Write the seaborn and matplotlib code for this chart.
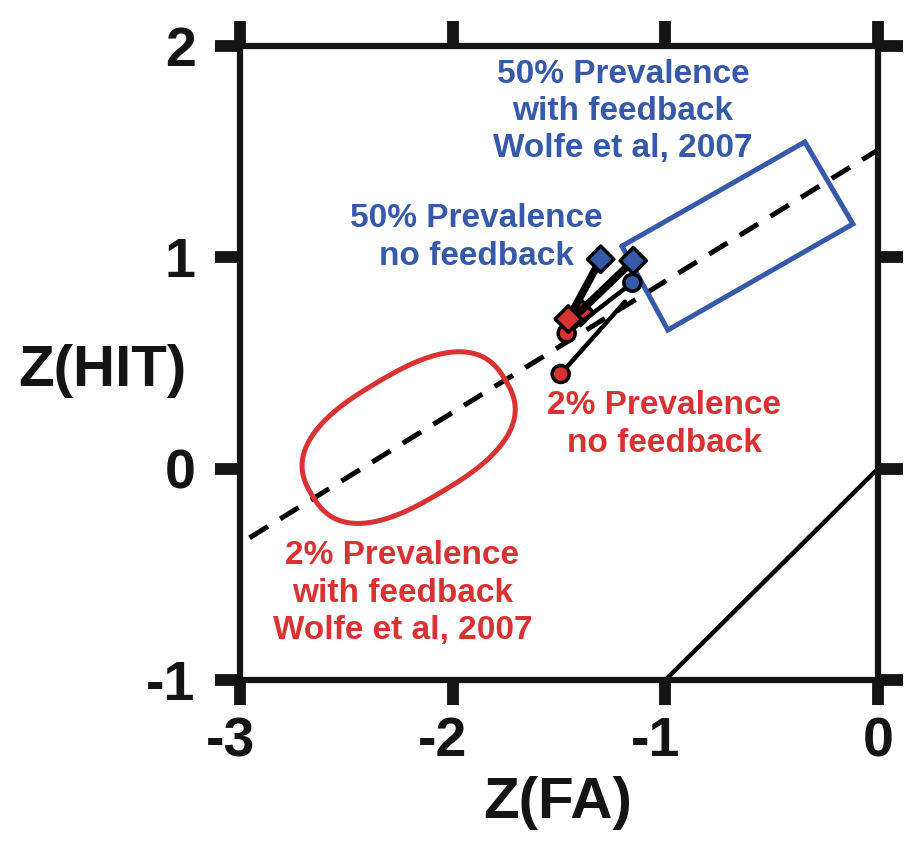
import matplotlib
matplotlib.use("Agg")
import matplotlib.pyplot as plt
import matplotlib.transforms as mtransforms
import numpy as np
import pandas as pd
import seaborn as sns

# Z-scores: each 50% point paired with its 2% point
pair_id = ["d1", "d2", "c1", "c2"]
pair_marker = ["D", "D", "o", "o"]
fa_50 = [-1.304, -1.151, -1.155, -1.190]
hit_50 = [0.991, 0.984, 0.880, 0.790]
fa_2 = [-1.456, -1.401, -1.464, -1.492]
hit_2 = [0.708, 0.743, 0.640, 0.448]

# dashed criterion line
dash_x = [-2.955, 0.0]
dash_y = [-0.327, 1.508]

# chance diagonal
chance_x = [-1.0, 0.0]
chance_y = [-1.0, 0.0]

# Wolfe et al 2007, 50% prevalence region (rectangle corners)
box_x = [-1.204, -0.344, -0.118, -0.988]
box_y = [1.053, 1.546, 1.158, 0.656]

# Wolfe et al 2007, 2% prevalence region (rounded ellipse)
ell_cx, ell_cy = -2.207, 0.147
ell_a, ell_b = 0.53, 0.30
ell_angle = 31.0
ell_pow = 2.6

x_ticks = [-3, -2, -1, 0]
y_ticks = [-1, 0, 1, 2]

BLUE = "#3659a8"
RED = "#d93232"
INK = "#141414"

df = pd.DataFrame({
    "pair": pair_id * 2,
    "marker": pair_marker * 2,
    "prev": ["50%"] * 4 + ["2%"] * 4,
    "fa": fa_50 + fa_2,
    "hit": hit_50 + hit_2,
})

sns.set_style("white")
plt.rcParams["font.family"] = ["Liberation Sans", "DejaVu Sans"]
plt.rcParams["font.weight"] = "bold"
plt.rcParams["text.color"] = INK
plt.rcParams["axes.labelcolor"] = INK
plt.rcParams["xtick.color"] = INK
plt.rcParams["ytick.color"] = INK

fig = plt.figure(figsize=(9.21, 8.55), dpi=100)
ax = fig.add_axes([0.2606, 0.2047, 0.6927, 0.7415])

# reference lines
sns.lineplot(x=dash_x, y=dash_y, ax=ax, color="black", lw=3.6, zorder=2)
ax.lines[-1].set_dashes((4.3, 2.9))
sns.lineplot(x=chance_x, y=chance_y, ax=ax, color="black", lw=3.2, zorder=2)

# blue rectangle
bx = box_x + box_x[:1]
by = box_y + box_y[:1]
ax.plot(bx, by, color=BLUE, lw=3.6, zorder=2, solid_joinstyle="miter")

# red rounded ellipse
t = np.linspace(0, 2 * np.pi, 400)
u = ell_a * np.sign(np.cos(t)) * np.abs(np.cos(t)) ** (2 / ell_pow)
v = ell_b * np.sign(np.sin(t)) * np.abs(np.sin(t)) ** (2 / ell_pow)
th = np.deg2rad(ell_angle)
ex = ell_cx + u * np.cos(th) - v * np.sin(th)
ey = ell_cy + u * np.sin(th) + v * np.cos(th)
ax.plot(ex, ey, color=RED, lw=3.6, zorder=2)

# partly hidden red diamond sits under the connecting lines
hidden = df[(df["pair"] == "d2") & (df["prev"] == "2%")]
sns.scatterplot(data=hidden, x="fa", y="hit", ax=ax, marker="D", s=180,
                color=RED, edgecolor="black", linewidth=2.5, zorder=3,
                legend=False)

# connecting lines
d_lines = df[df["marker"] == "D"]
c_lines = df[df["marker"] == "o"]
sns.lineplot(data=d_lines, x="fa", y="hit", units="pair", estimator=None,
             sort=False, ax=ax, color="black", lw=5.5, zorder=4)
sns.lineplot(data=c_lines, x="fa", y="hit", units="pair", estimator=None,
             sort=False, ax=ax, color="black", lw=3.2, zorder=4)

# markers
pal = {"50%": BLUE, "2%": RED}
circ = df[(df["marker"] == "o") & ~((df["pair"] == "c2") & (df["prev"] == "50%"))]
sns.scatterplot(data=circ, x="fa", y="hit", hue="prev", palette=pal, ax=ax,
                marker="o", s=150, edgecolor="black", linewidth=2.5,
                zorder=5, legend=False)
diam = df[(df["marker"] == "D") & ~((df["pair"] == "d2") & (df["prev"] == "2%"))]
sns.scatterplot(data=diam, x="fa", y="hit", hue="prev", palette=pal, ax=ax,
                marker="D", s=180, edgecolor="black", linewidth=2.5,
                zorder=6, legend=False)

# annotations
txt = dict(ha="center", va="center", fontsize=24, fontweight="bold",
           linespacing=1.27, zorder=7)
ax.text(-1.199, 1.69, "50% Prevalence\nwith feedback\nWolfe et al, 2007",
        color=BLUE, **txt)
ax.text(-1.889, 1.094, "50% Prevalence\nno feedback", color=BLUE, **txt)
ax.text(-1.005, 0.209, "2% Prevalence\nno feedback", color=RED, **txt)
ax.text(-2.237, -0.589, "2% Prevalence\nwith feedback\nWolfe et al, 2007",
        color=RED, **txt)

# axes styling
ax.set_xlim(-3, 0)
ax.set_ylim(-1, 2)
ax.set_xticks(x_ticks)
ax.set_yticks(y_ticks)
ax.set_xticklabels([str(v) for v in x_ticks])
ax.set_yticklabels([str(v) for v in y_ticks])
for s in ax.spines.values():
    s.set_visible(True)
    s.set_color(INK)
    s.set_linewidth(4.5)
ax.tick_params(axis="both", which="both", direction="out", length=18,
               width=8.5, color=INK, labelcolor=INK, labelsize=40,
               bottom=True, left=True, top=True, right=True,
               labeltop=False, labelright=False)
ax.tick_params(axis="x", pad=8)
ax.tick_params(axis="y", pad=14)
for lab in ax.get_xticklabels():
    lab.set_fontweight("bold")
    if lab.get_text().startswith("-"):
        lab.set_transform(lab.get_transform() + mtransforms.ScaledTranslation(
            -7 / 72, 0, fig.dpi_scale_trans))
for lab in ax.get_yticklabels():
    lab.set_fontweight("bold")

ax.set_xlabel("Z(FA)", fontsize=42, fontweight="bold", va="center")
ax.set_ylabel("Z(HIT)", fontsize=42, fontweight="bold", rotation=0,
              ha="center", va="center")
ax.xaxis.set_label_coords(0.498, -0.194)
ax.yaxis.set_label_coords(-0.216, 0.487)

fig.savefig("out.png", dpi=100)
